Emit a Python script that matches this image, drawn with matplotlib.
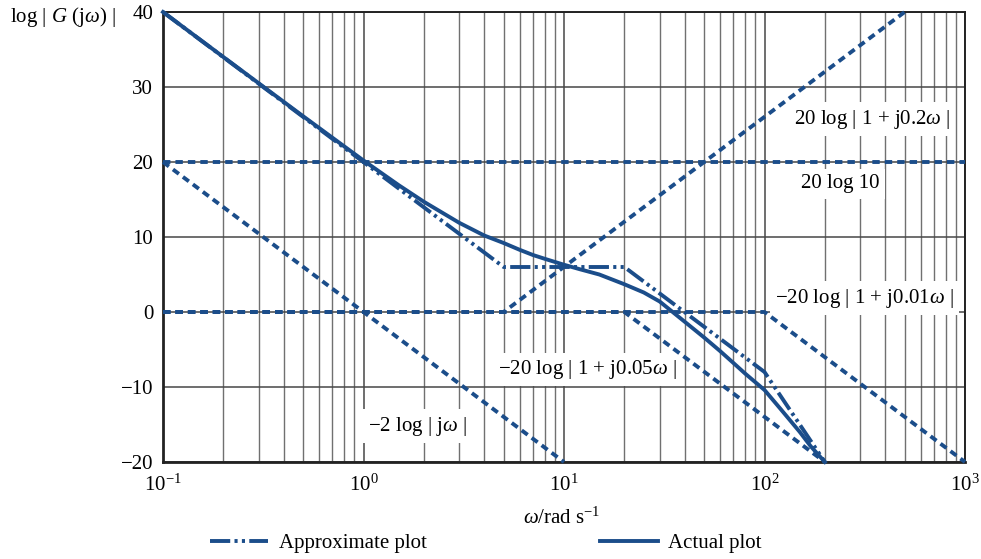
import matplotlib
matplotlib.use('Agg')
import matplotlib.pyplot as plt
from matplotlib.ticker import LogLocator, FixedLocator, NullFormatter, FixedFormatter
from matplotlib.lines import Line2D

plt.rcParams['font.family'] = ['Liberation Serif', 'DejaVu Serif']
plt.rcParams['mathtext.fontset'] = 'custom'
plt.rcParams['mathtext.rm'] = 'Liberation Serif'
plt.rcParams['mathtext.it'] = 'Liberation Serif:italic'
plt.rcParams['mathtext.bf'] = 'Liberation Serif:bold'

# ---------------- data ----------------
# asymptotic components (corner points)
gain_w = [0.1, 1000]
gain_db = [20, 20]
integ_w = [0.1, 10]
integ_db = [20, -20]
zero_w = [0.1, 5, 500]
zero_db = [0, 0, 40]
pole1_w = [0.1, 20, 200]
pole1_db = [0, 0, -20]
pole2_w = [0.1, 100, 1000]
pole2_db = [0, 0, -20]

# approximate (asymptotic) total
approx_w = [0.1, 5, 20, 100, 200]
approx_db = [40, 6, 6, -8, -20]

# actual curve
actual_w = [0.1, 0.2, 0.5, 1, 1.5, 2, 3, 4, 5, 6, 7, 8, 10, 12, 15, 20, 25, 30,
            40, 50, 60, 70, 80, 100, 120, 150, 170, 200]
actual_db = [40, 34.0, 26.1, 20.2, 16.9, 14.7, 11.9, 10.2, 9.2, 8.3, 7.6, 7.1, 6.3,
             5.7, 5.0, 3.7, 2.6, 1.4, -1.3, -3.4, -5.2, -6.8, -8.2, -10.4, -12.9,
             -16.0, -17.9, -20]

xtick_vals = [0.1, 1, 10, 100, 1000]
xtick_labels = ['10$^{-1}$', '10$^{0}$', '10$^{1}$', '10$^{2}$', '10$^{3}$']
ytick_vals = [-20, -10, 0, 10, 20, 30, 40]
ytick_labels = ['\u221220', '\u221210', '0', '10', '20', '30', '40']

# ---------------- style ----------------
BLUE = '#1b4d8a'
LW = 2.8
dashed = (0, (1.9, 1.3))
dashdotdot = (0, (5.2, 1.1, 0.8, 1.1, 0.8, 1.1))

fig = plt.figure(figsize=(9.81, 5.59), dpi=100)
ax = fig.add_axes([163/981, 1-462/559, 802/981, 450/559])

ax.set_xscale('log')
ax.set_xlim(0.1, 1000)
ax.set_ylim(-20, 40)

for w, d in [(gain_w, gain_db), (integ_w, integ_db), (zero_w, zero_db),
             (pole1_w, pole1_db), (pole2_w, pole2_db)]:
    ax.plot(w, d, color=BLUE, lw=LW, linestyle=dashed, zorder=4, clip_on=False)

ax.plot(approx_w, approx_db, color=BLUE, lw=LW, linestyle=dashdotdot, zorder=5, clip_on=False)
ax.plot(actual_w, actual_db, color=BLUE, lw=LW, linestyle='-', zorder=6, clip_on=False,
        solid_joinstyle='round')

ax.xaxis.set_major_locator(FixedLocator(xtick_vals))
ax.xaxis.set_major_formatter(FixedFormatter(xtick_labels))
ax.xaxis.set_minor_locator(LogLocator(base=10, subs=[2, 3, 4, 5, 6, 7, 8, 9], numticks=20))
ax.xaxis.set_minor_formatter(NullFormatter())
ax.yaxis.set_major_locator(FixedLocator(ytick_vals))
ax.yaxis.set_major_formatter(FixedFormatter(ytick_labels))

ax.tick_params(which='both', length=0, labelsize=15)
ax.tick_params(axis='x', pad=9)
ax.tick_params(axis='y', pad=7)

ax.grid(which='major', axis='both', color='#474747', lw=1.1, zorder=1)
ax.grid(which='minor', axis='x', color='#707070', lw=1.0, zorder=1)
ax.set_axisbelow(True)

for s in ax.spines.values():
    s.set_color('#222222')
    s.set_linewidth(1.4)
ax.spines['left'].set_linewidth(2.0)
ax.spines['bottom'].set_linewidth(2.0)

bb = dict(boxstyle='square,pad=0.25', fc='white', ec='none')
tfs = 15
ax.text(0.884, 0.762, '20 log | 1 + j0.2$\\omega$ |', transform=ax.transAxes,
        ha='center', va='center', fontsize=tfs, bbox=bb, zorder=3)
ax.text(0.845, 0.618, '20 log 10', transform=ax.transAxes,
        ha='center', va='center', fontsize=tfs, bbox=bb, zorder=3)
ax.text(0.875, 0.364, '\u221220 log | 1 + j0.01$\\omega$ |',
        transform=ax.transAxes, ha='center', va='center', fontsize=tfs, bbox=bb, zorder=3)
ax.text(0.529, 0.205, '\u221220 log | 1 + j0.05$\\omega$ |', transform=ax.transAxes,
        ha='center', va='center', fontsize=tfs, bbox=bb, zorder=3)
ax.text(0.317, 0.080, '\u22122 log | j$\\omega$ |', transform=ax.transAxes,
        ha='center', va='center', fontsize=tfs, bbox=bb, zorder=3)

fig.text(10/981, 1-17/559, 'log | $G$ (j$\\omega$) |', ha='left', va='center', fontsize=15)
fig.text(562/981, 1-518/559, '$\\omega$/rad s$^{-1}$', ha='center', va='center', fontsize=15)

handles = [Line2D([], [], color=BLUE, lw=LW, linestyle=dashdotdot),
           Line2D([], [], color=BLUE, lw=LW, linestyle='-')]
fig.legend(handles, ['Approximate plot', 'Actual plot'], loc='center',
           bbox_to_anchor=(486/981, 1-543/559), ncol=2, frameon=False, fontsize=15,
           handlelength=2.8, handletextpad=0.5, columnspacing=8.3)

fig.savefig('out.png', dpi=100)
